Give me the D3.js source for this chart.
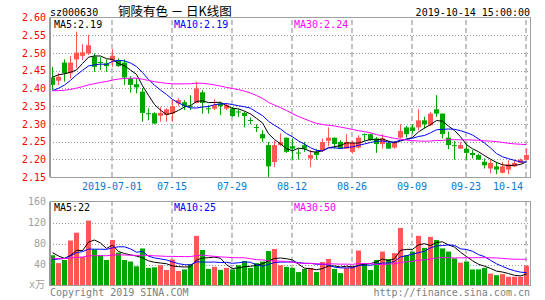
<!DOCTYPE html>
<html>
<head>
<meta charset="utf-8">
<script src="https://cdn.jsdelivr.net/npm/d3@7"></script>
<style>
  body { margin: 0; background: #fff; }
  text { font-family: "DejaVu Sans Mono", monospace; font-size: 10px; }
</style>
</head>
<body>
<svg id="chart" width="545" height="300"></svg>
<script>
// trading days shown (2019-06-17 .. 2019-10-14)
const dates = [
  '2019-06-17','2019-06-18','2019-06-19','2019-06-20','2019-06-21','2019-06-24','2019-06-25','2019-06-26','2019-06-27','2019-06-28',
  '2019-07-01','2019-07-02','2019-07-03','2019-07-04','2019-07-05','2019-07-08','2019-07-09','2019-07-10','2019-07-11','2019-07-12',
  '2019-07-15','2019-07-16','2019-07-17','2019-07-18','2019-07-19','2019-07-22','2019-07-23','2019-07-24','2019-07-25','2019-07-26',
  '2019-07-29','2019-07-30','2019-07-31','2019-08-01','2019-08-02','2019-08-05','2019-08-06','2019-08-07','2019-08-08','2019-08-09',
  '2019-08-12','2019-08-13','2019-08-14','2019-08-15','2019-08-16','2019-08-19','2019-08-20','2019-08-21','2019-08-22','2019-08-23',
  '2019-08-26','2019-08-27','2019-08-28','2019-08-29','2019-08-30','2019-09-02','2019-09-03','2019-09-04','2019-09-05','2019-09-06',
  '2019-09-09','2019-09-10','2019-09-11','2019-09-12','2019-09-16','2019-09-17','2019-09-18','2019-09-19','2019-09-20','2019-09-23',
  '2019-09-24','2019-09-25','2019-09-26','2019-09-27','2019-09-30','2019-10-08','2019-10-09','2019-10-10','2019-10-11','2019-10-14'
];

const open = [
  2.431, 2.422, 2.473, 2.443, 2.482, 2.492, 2.499, 2.490, 2.475, 2.471,
  2.480, 2.480, 2.473, 2.428, 2.412, 2.391, 2.330, 2.330, 2.323, 2.325,
  2.329, 2.358, 2.361, 2.351, 2.359, 2.389, 2.344, 2.343, 2.358, 2.343,
  2.343, 2.335, 2.331, 2.311, 2.291, 2.271, 2.240, 2.192, 2.240, 2.261,
  2.237, 2.219, 2.240, 2.202, 2.221, 2.224, 2.252, 2.261, 2.249, 2.230,
  2.221, 2.233, 2.271, 2.271, 2.259, 2.243, 2.246, 2.233, 2.261, 2.290,
  2.290, 2.290, 2.310, 2.296, 2.341, 2.329, 2.261, 2.240, 2.230, 2.230,
  2.218, 2.212, 2.193, 2.174, 2.180, 2.162, 2.171, 2.180, 2.190, 2.199
];
const high = [
  2.461, 2.443, 2.482, 2.492, 2.560, 2.525, 2.551, 2.499, 2.488, 2.482,
  2.511, 2.485, 2.482, 2.435, 2.428, 2.401, 2.344, 2.333, 2.348, 2.344,
  2.369, 2.372, 2.367, 2.381, 2.419, 2.395, 2.353, 2.369, 2.362, 2.358,
  2.348, 2.341, 2.334, 2.318, 2.299, 2.282, 2.249, 2.252, 2.273, 2.261,
  2.259, 2.230, 2.249, 2.226, 2.230, 2.259, 2.290, 2.261, 2.254, 2.271,
  2.252, 2.268, 2.273, 2.273, 2.263, 2.271, 2.252, 2.252, 2.299, 2.294,
  2.299, 2.341, 2.320, 2.334, 2.381, 2.329, 2.278, 2.252, 2.249, 2.245,
  2.226, 2.216, 2.202, 2.199, 2.193, 2.193, 2.197, 2.199, 2.202, 2.230
];
const low = [
  2.395, 2.410, 2.419, 2.428, 2.457, 2.480, 2.495, 2.447, 2.452, 2.447,
  2.461, 2.461, 2.410, 2.388, 2.386, 2.306, 2.310, 2.299, 2.306, 2.306,
  2.306, 2.350, 2.339, 2.339, 2.358, 2.329, 2.329, 2.339, 2.325, 2.339,
  2.320, 2.320, 2.290, 2.299, 2.277, 2.249, 2.150, 2.178, 2.237, 2.218,
  2.199, 2.199, 2.221, 2.178, 2.199, 2.221, 2.237, 2.230, 2.230, 2.230,
  2.216, 2.230, 2.252, 2.252, 2.218, 2.230, 2.230, 2.230, 2.259, 2.261,
  2.273, 2.282, 2.287, 2.294, 2.320, 2.259, 2.228, 2.199, 2.230, 2.199,
  2.202, 2.199, 2.174, 2.160, 2.158, 2.160, 2.158, 2.178, 2.188, 2.197
];
const close = [
  2.410, 2.433, 2.443, 2.473, 2.501, 2.502, 2.522, 2.461, 2.472, 2.463,
  2.492, 2.463, 2.431, 2.410, 2.403, 2.331, 2.328, 2.301, 2.331, 2.341,
  2.350, 2.367, 2.350, 2.349, 2.400, 2.359, 2.342, 2.353, 2.350, 2.353,
  2.322, 2.333, 2.322, 2.310, 2.290, 2.259, 2.180, 2.240, 2.249, 2.221,
  2.230, 2.217, 2.230, 2.212, 2.212, 2.249, 2.261, 2.243, 2.230, 2.249,
  2.246, 2.261, 2.270, 2.254, 2.243, 2.259, 2.230, 2.246, 2.280, 2.271,
  2.280, 2.310, 2.299, 2.329, 2.329, 2.271, 2.240, 2.238, 2.240, 2.218,
  2.212, 2.199, 2.183, 2.190, 2.171, 2.180, 2.186, 2.190, 2.199, 2.212
];
// volume in 万手
const volume = [
  58, 43, 49, 86, 101, 55, 124, 69, 58, 49,
  87, 63, 49, 46, 37, 71, 34, 35, 39, 30,
  50, 28, 31, 41, 95, 68, 32, 36, 30, 34,
  31, 39, 47, 34, 43, 46, 66, 70, 39, 36,
  34, 26, 32, 34, 26, 45, 51, 32, 24, 34,
  37, 67, 43, 30, 49, 65, 51, 62, 110, 58,
  65, 95, 72, 93, 87, 71, 65, 52, 44, 46,
  31, 31, 34, 23, 20, 22, 17, 17, 17, 38
];
// the 29 sessions before the first visible day (only feed the moving averages)
const priorClose = [
  2.42, 2.41, 2.40, 2.39, 2.38, 2.37, 2.36, 2.37, 2.38, 2.37, 2.38, 2.38,
  2.39, 2.40, 2.42, 2.43, 2.41, 2.40, 2.41, 2.39,
  2.37, 2.35, 2.34, 2.35, 2.37, 2.40, 2.43, 2.45, 2.47
];
const priorVolume = [
  48, 55, 60, 52, 45, 50, 62, 58, 54, 47, 51, 56,
  60, 49, 53, 57, 50, 55, 48, 50,
  35, 38, 36, 40, 36, 75, 72, 58, 52
];

const priceTicks = [2.60, 2.55, 2.50, 2.45, 2.40, 2.35, 2.30, 2.25, 2.20, 2.15];
const volumeTicks = [160, 120, 80, 40];
const dateTicks = ['2019-07-01','2019-07-15','2019-07-29','2019-08-12','2019-08-26','2019-09-09','2019-09-23','2019-10-14'];

const RED = '#ff5656', GREEN = '#00a600';
const maColors = ['#000000', '#0000ff', '#ff00ff'];
const maPeriods = [5, 10, 30];

const left = 50, right = 530;
const priceTop = 17.6, priceBottom = 177;
const volTop = 201.7, volBottom = 285.7;

function movingAverage(values, prior, n) {
  const all = prior.concat(values);
  return values.map((v, i) => {
    const end = prior.length + i + 1;
    return d3.mean(all.slice(end - n, end));
  });
}

const svg = d3.select('#chart');

const x = d3.scaleBand().domain(dates).range([49, 529]);
const cx = d => x(d) + 3.5;
const yP = d3.scaleLinear().domain([2.15, 2.60]).range([priceBottom, priceTop]);
const yV = d3.scaleLinear().domain([0, 160]).range([volBottom, volTop]);

// ---- grid ----
function hGrid(scale, ticks) {
  svg.append('g')
    .attr('transform', `translate(${left},0)`)
    .call(d3.axisLeft(scale).tickValues(ticks).tickSize(-(right - left)).tickFormat(''))
    .call(g => g.select('.domain').remove())
    .selectAll('line')
    .attr('stroke', '#999')
    .attr('stroke-dasharray', '1,2')
    .attr('shape-rendering', 'crispEdges');
}
hGrid(yP, priceTicks.slice(1, -1));
hGrid(yV, volumeTicks.slice(1));

function vGrid(top, bottom) {
  svg.append('g')
    .attr('transform', `translate(0,${bottom})`)
    .call(d3.axisBottom(x).tickValues(dateTicks).tickSize(-(bottom - top)).tickFormat(''))
    .call(g => g.select('.domain').remove())
    .selectAll('line')
    .attr('stroke', '#b4b4b4')
    .attr('stroke-width', 1.6)
    .attr('stroke-dasharray', '5,3');
}
vGrid(priceTop, priceBottom);
vGrid(volTop, volBottom);

// ---- candles ----
const colorOf = i => close[i] >= open[i] ? RED : GREEN;

const candles = svg.append('g').selectAll('g')
  .data(dates)
  .join('g')
  .attr('fill', (d, i) => colorOf(i))
  .attr('stroke', (d, i) => colorOf(i));

candles.append('line')
  .attr('x1', d => cx(d)).attr('x2', d => cx(d))
  .attr('y1', (d, i) => yP(high[i]))
  .attr('y2', (d, i) => yP(low[i]))
  .attr('stroke-width', 1);

candles.append('rect')
  .attr('stroke', 'none')
  .attr('x', d => x(d) + 1)
  .attr('width', 5)
  .attr('y', (d, i) => yP(Math.max(open[i], close[i])))
  .attr('height', (d, i) => Math.max(1, yP(Math.min(open[i], close[i])) - yP(Math.max(open[i], close[i]))));

// ---- volume bars ----
svg.append('g').selectAll('rect')
  .data(dates)
  .join('rect')
  .attr('x', d => x(d) + 1)
  .attr('width', 5)
  .attr('y', (d, i) => yV(volume[i]))
  .attr('height', (d, i) => volBottom - yV(volume[i]))
  .attr('fill', (d, i) => colorOf(i));

// ---- moving averages ----
const priceMA = maPeriods.map(n => movingAverage(close, priorClose, n));
const volumeMA = maPeriods.map(n => movingAverage(volume, priorVolume, n));

function drawLines(series, scale) {
  series.forEach((vals, k) => {
    svg.append('path')
      .datum(vals)
      .attr('fill', 'none')
      .attr('stroke', maColors[k])
      .attr('stroke-width', 1)
      .attr('d', d3.line().x((v, i) => cx(dates[i])).y(v => scale(v)));
  });
}
drawLines(priceMA, yP);
drawLines(volumeMA, yV);

// ---- frames ----
[[priceTop, priceBottom], [volTop, volBottom]].forEach(([t, b]) => {
  svg.append('rect')
    .attr('x', left).attr('y', t)
    .attr('width', right - left).attr('height', b - t)
    .attr('fill', 'none').attr('stroke', '#a0a0a0')
    .attr('shape-rendering', 'crispEdges');
  svg.append('line')
    .attr('x1', left).attr('x2', left).attr('y1', t).attr('y2', b)
    .attr('stroke', '#999').attr('stroke-width', 2);
});

// ---- axis labels ----
svg.append('g')
  .attr('transform', `translate(${left},0)`)
  .call(d3.axisLeft(yP).tickValues(priceTicks).tickSize(0).tickPadding(4).tickFormat(d3.format('.2f')))
  .call(g => g.select('.domain').remove())
  .selectAll('text')
  .attr('fill', '#ff0000')
  .style('font-family', '"DejaVu Sans Mono", monospace')
  .style('font-size', '10px');

svg.append('g')
  .attr('transform', `translate(${left},0)`)
  .call(d3.axisLeft(yV).tickValues(volumeTicks).tickSize(0).tickPadding(4))
  .call(g => g.select('.domain').remove())
  .selectAll('text')
  .attr('fill', '#a0a0a0')
  .style('font-family', '"DejaVu Sans Mono", monospace')
  .style('font-size', '10px');

const xLabels = svg.append('g')
  .attr('transform', `translate(0,${priceBottom})`)
  .call(d3.axisBottom(x).tickValues(dateTicks).tickSize(0).tickPadding(6)
    .tickFormat((d, i) => i === 0 ? d : d.slice(5)))
  .call(g => g.select('.domain').remove());
xLabels.selectAll('text')
  .attr('fill', '#0a78d2')
  .style('font-family', '"DejaVu Sans Mono", monospace')
  .style('font-size', '10px');
xLabels.selectAll('.tick:last-of-type text')
  .attr('text-anchor', 'end')
  .attr('x', -3);

// ---- header / legends ----
svg.append('text').attr('x', 50).attr('y', 15.5).text('sz000630');
svg.append('text').attr('x', 118).attr('y', 15.5)
  .style('font-family', '"Noto Sans CJK SC", sans-serif')
  .style('font-size', '12.5px')
  .text('铜陵有色 － 日K线图');
svg.append('text').attr('x', right).attr('y', 15.5).attr('text-anchor', 'end').text('2019-10-14 15:00:00');

const legendX = [54, 174, 294];
maPeriods.forEach((n, k) => {
  svg.append('text').attr('x', legendX[k]).attr('y', priceTop + 10)
    .attr('fill', maColors[k])
    .text(`MA${n}:${d3.format('.2f')(priceMA[k][priceMA[k].length - 1])}`);
  svg.append('text').attr('x', legendX[k]).attr('y', volTop + 9)
    .attr('fill', maColors[k])
    .text(`MA${n}:${Math.round(volumeMA[k][volumeMA[k].length - 1])}`);
});

svg.append('text').attr('x', 29).attr('y', 288).attr('fill', '#a0a0a0')
  .append('tspan').text('x')
  .append('tspan').style('font-family', '"Noto Sans CJK SC", sans-serif').text('万');

svg.append('text').attr('x', 50).attr('y', 296).attr('fill', '#808080').text('Copyright 2019 SINA.COM');
svg.append('text').attr('x', right).attr('y', 296).attr('text-anchor', 'end').attr('fill', '#808080').text('http://finance.sina.com.cn');
</script>
</body>
</html>
